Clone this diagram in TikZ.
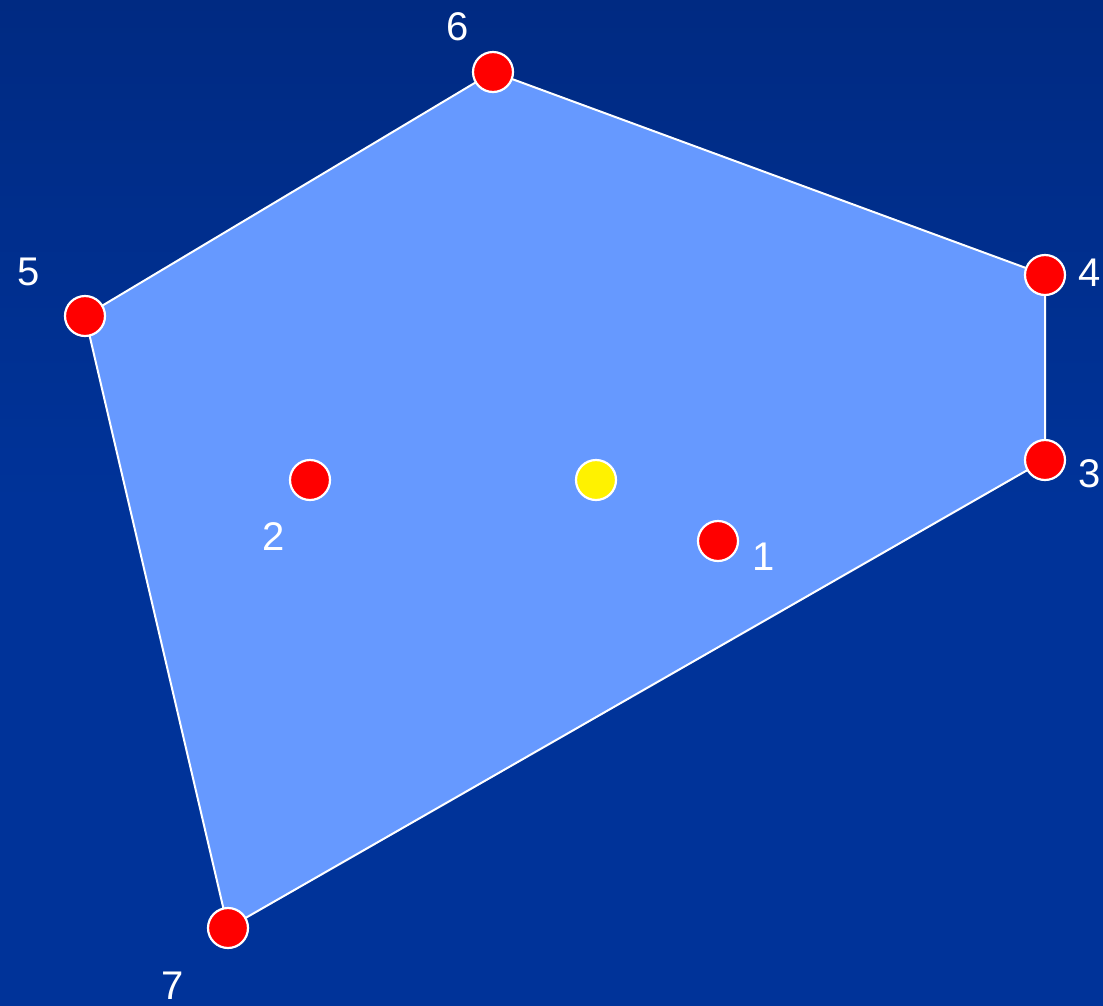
\documentclass[tikz,border=0pt]{standalone}
\usepackage{fontspec}
\setmainfont{Liberation Sans}
\begin{document}
\begin{tikzpicture}[x=1pt,y=-1pt,
  pt/.style={circle,fill=red,draw=white,line width=2.2pt,minimum size=40pt,inner sep=0pt},
  ctr/.style={circle,fill=yellow,draw=white,line width=2.2pt,minimum size=40pt,inner sep=0pt},
  lbl/.style={text=white,font=\fontsize{40}{48}\selectfont,inner sep=0pt}]
\definecolor{bgtop}{RGB}{0,42,130}
\definecolor{bgbot}{RGB}{0,51,153}
\definecolor{hull}{RGB}{102,153,255}
\shade[top color=bgtop,bottom color=bgbot,middle color=bgbot] (0,0) rectangle (1103,1005);
\useasboundingbox (0,0) rectangle (1103,1005);
\coordinate (c6) at (493,72);
\coordinate (c4) at (1045,275);
\coordinate (c3) at (1045,460);
\coordinate (c7) at (228,928);
\coordinate (c5) at (85,316);
\fill[hull,draw=white,line width=2pt,line join=round] (c6) -- (c4) -- (c3) -- (c7) -- (c5) -- cycle;
\node[pt] (p6) at (c6) {};
\node[pt] (p4) at (c4) {};
\node[pt] (p3) at (c3) {};
\node[pt] (p7) at (c7) {};
\node[pt] (p5) at (c5) {};
\node[pt] (p2) at (310,480) {};
\node[pt] (p1) at (718,541) {};
\node[ctr] (pc) at (596,480) {};
\node[lbl] (l6) at (458,27) {6};
\node[lbl] (l4) at (1090,273) {4};
\node[lbl] (l3) at (1090,474) {3};
\node[lbl] (l7) at (173,986) {7};
\node[lbl] (l5) at (29,272) {5};
\node[lbl] (l2) at (274,537) {2};
\node[lbl] (l1) at (764,557) {1};
\end{tikzpicture}
\end{document}
